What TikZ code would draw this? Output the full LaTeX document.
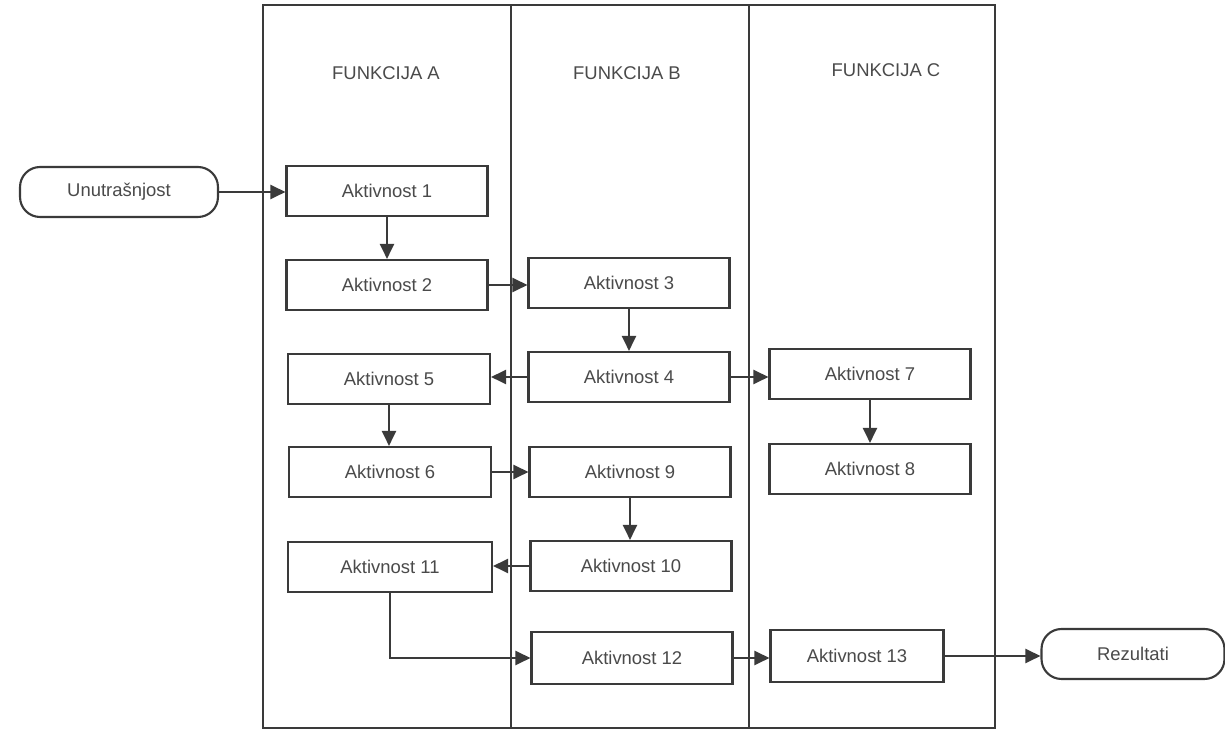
\documentclass[tikz,border=0pt]{standalone}
\usepackage{fontspec}
\setmainfont{Liberation Sans}
\usetikzlibrary{arrows.meta}
\definecolor{ink}{HTML}{3A3A3A}
\definecolor{txt}{HTML}{4A4A4A}
\begin{document}
\begin{tikzpicture}[x=0.02cm,y=-0.02cm,
  every node/.style={font=\fontsize{10.5}{12}\selectfont, text=txt},
  act/.style={draw=ink, line width=1.2pt, rectangle, minimum width=4.02cm, minimum height=1.0cm, inner sep=0pt},
  term/.style={draw=ink, line width=1.2pt, rectangle, rounded corners=0.4cm, minimum width=3.96cm, minimum height=1.0cm, inner sep=0pt},
  lane/.style={draw=ink, line width=1.3pt},
  flow/.style={draw=ink, line width=1.2pt, -{Triangle[length=3mm,width=2.8mm]}},
  title/.style={font=\fontsize{10.5}{12}\selectfont}]
\useasboundingbox (0,0) rectangle (1225,732);
\fill[white] (0,0) rectangle (1225,732);
% swimlanes
\draw[lane] (263,5) rectangle (995,728);
\draw[lane] (511,5) -- (511,728);
\draw[lane] (749,5) -- (749,728);
\node[title] (fa) at (386,73) {FUNKCIJA A};
\node[title] (fb) at (627,73) {FUNKCIJA B};
\node[title] (fc) at (886,70) {FUNKCIJA C};
% nodes
\node[term] (in) at (119,192) {Unutrašnjost};
\node[act] (a1) at (387,191) {Aktivnost 1};
\node[act] (a2) at (387,285) {Aktivnost 2};
\node[act] (a3) at (629,283) {Aktivnost 3};
\node[act] (a4) at (629,377) {Aktivnost 4};
\node[act, minimum width=4.04cm] (a5) at (389,379) {Aktivnost 5};
\node[act, minimum width=4.04cm] (a6) at (390,472) {Aktivnost 6};
\node[act] (a7) at (870,374) {Aktivnost 7};
\node[act] (a8) at (870,469) {Aktivnost 8};
\node[act] (a9) at (630,472) {Aktivnost 9};
\node[act] (a10) at (631,566) {Aktivnost 10};
\node[act, minimum width=4.08cm] (a11) at (390,567) {Aktivnost 11};
\node[act, minimum height=1.04cm] (a12) at (632,658) {Aktivnost 12};
\node[act, minimum width=3.46cm, minimum height=1.04cm] (a13) at (857,656) {Aktivnost 13};
\node[term, minimum width=3.66cm] (out) at (1133,654) {Rezultati};
% connectors
\draw[flow] (in.east) -- (in.east -| a1.west);
\draw[flow] (a1.south) -- (a1.south |- a2.north);
\draw[flow] (a2.east) -- (a2.east -| a3.west);
\draw[flow] (a3.south) -- (a3.south |- a4.north);
\draw[flow] (a4.west) -- (a4.west -| a5.east);
\draw[flow] (a4.east) -- (a4.east -| a7.west);
\draw[flow] (a5.south) -- (a5.south |- a6.north);
\draw[flow] (a6.east) -- (a6.east -| a9.west);
\draw[flow] (a7.south) -- (a7.south |- a8.north);
\draw[flow] (a9.south) -- (a9.south |- a10.north);
\draw[flow] (a10.west) -- (a10.west -| a11.east);
\draw[flow] (a11.south) |- (a12.west);
\draw[flow] (a12.east) -- (a12.east -| a13.west);
\draw[flow] (a13.east) -- (a13.east -| out.west);
\end{tikzpicture}
\end{document}
